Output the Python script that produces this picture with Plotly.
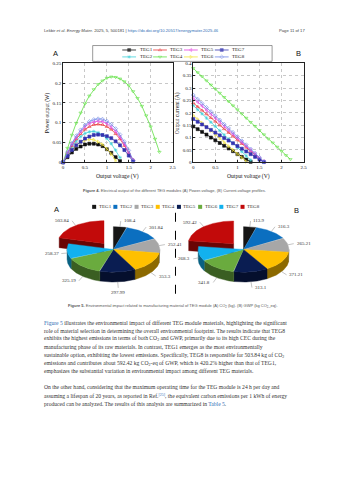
import numpy as np
import plotly.graph_objects as go

W, H = 353, 480

teg_names = ["TEG1", "TEG2", "TEG3", "TEG4", "TEG5", "TEG6", "TEG7", "TEG8"]

# ---------- Figure 4 data ----------
volt_TEG1 = [0.0, 0.1, 0.2, 0.3, 0.4, 0.5, 0.6, 0.7, 0.8, 0.9, 1.0, 1.1, 1.2, 1.3]
curr_TEG1 = [0.145, 0.134, 0.123, 0.112, 0.100, 0.089, 0.078, 0.067, 0.056, 0.045, 0.033, 0.022, 0.011, 0.002]
power_TEG1 = [0.0, 0.013, 0.025, 0.034, 0.040, 0.045, 0.047, 0.047, 0.045, 0.041, 0.033, 0.024, 0.013, 0.003]

volt_TEG2 = [0.0, 0.1, 0.2, 0.3, 0.4, 0.5, 0.6, 0.7, 0.8, 0.9, 1.0, 1.1, 1.2, 1.3]
curr_TEG2 = [0.230, 0.213, 0.196, 0.179, 0.162, 0.145, 0.128, 0.111, 0.094, 0.077, 0.060, 0.043, 0.026, 0.009]
power_TEG2 = [0.0, 0.021, 0.039, 0.054, 0.065, 0.073, 0.077, 0.078, 0.075, 0.069, 0.060, 0.047, 0.031, 0.012]

volt_TEG3 = [0.0, 0.1, 0.2, 0.3, 0.4, 0.5, 0.6, 0.7, 0.8, 0.9, 1.0, 1.1, 1.2, 1.3, 1.4, 1.5, 1.6]
curr_TEG3 = [0.240, 0.225, 0.210, 0.195, 0.180, 0.165, 0.150, 0.135, 0.120, 0.105, 0.090, 0.075, 0.060, 0.045, 0.030, 0.015, 0.004]
power_TEG3 = [0.0, 0.023, 0.042, 0.059, 0.072, 0.083, 0.090, 0.095, 0.096, 0.095, 0.090, 0.083, 0.072, 0.059, 0.042, 0.023, 0.006]

volt_TEG4 = [0.0, 0.1, 0.2, 0.3, 0.4, 0.5, 0.6, 0.7, 0.8, 0.9, 1.0, 1.1, 1.2, 1.3, 1.4, 1.5, 1.6, 1.7, 1.8, 1.9, 2.0, 2.1, 2.2]
curr_TEG4 = [0.380, 0.363, 0.347, 0.330, 0.313, 0.296, 0.280, 0.263, 0.246, 0.229, 0.213, 0.196, 0.179, 0.162, 0.146, 0.129, 0.112, 0.095, 0.079, 0.062, 0.045, 0.028, 0.012]
power_TEG4 = [0.0, 0.036, 0.069, 0.099, 0.125, 0.148, 0.168, 0.184, 0.197, 0.206, 0.213, 0.216, 0.215, 0.211, 0.204, 0.194, 0.179, 0.162, 0.142, 0.118, 0.090, 0.059, 0.026]

volt_TEG5 = [0.0, 0.1, 0.2, 0.3, 0.4, 0.5, 0.6, 0.7, 0.8, 0.9, 1.0, 1.1, 1.2, 1.3, 1.4, 1.5, 1.6]
curr_TEG5 = [0.260, 0.244, 0.228, 0.211, 0.195, 0.179, 0.163, 0.146, 0.130, 0.114, 0.098, 0.081, 0.065, 0.049, 0.033, 0.016, 0.003]
power_TEG5 = [0.0, 0.024, 0.046, 0.063, 0.078, 0.090, 0.098, 0.102, 0.104, 0.103, 0.098, 0.089, 0.078, 0.064, 0.046, 0.024, 0.005]

volt_TEG6 = [0.0, 0.1, 0.2, 0.3, 0.4, 0.5, 0.6, 0.7, 0.8, 0.9, 1.0, 1.1, 1.2]
curr_TEG6 = [0.190, 0.174, 0.159, 0.143, 0.128, 0.112, 0.097, 0.081, 0.065, 0.050, 0.034, 0.019, 0.003]
power_TEG6 = [0.0, 0.017, 0.032, 0.043, 0.051, 0.056, 0.058, 0.057, 0.052, 0.045, 0.034, 0.021, 0.004]

volt_TEG7 = [0.0, 0.1, 0.2, 0.3, 0.4, 0.5, 0.6, 0.7, 0.8, 0.9, 1.0, 1.1, 1.2, 1.3, 1.4, 1.5, 1.6]
curr_TEG7 = [0.175, 0.164, 0.153, 0.142, 0.131, 0.120, 0.109, 0.098, 0.088, 0.077, 0.066, 0.055, 0.044, 0.033, 0.022, 0.011, 0.001]
power_TEG7 = [0.0, 0.016, 0.031, 0.043, 0.052, 0.060, 0.065, 0.069, 0.070, 0.069, 0.066, 0.061, 0.053, 0.043, 0.031, 0.017, 0.002]

volt_TEG8 = [0.0, 0.1, 0.2, 0.3, 0.4, 0.5, 0.6, 0.7, 0.8, 0.9, 1.0, 1.1, 1.2, 1.3, 1.4, 1.5, 1.6]
curr_TEG8 = [0.272, 0.255, 0.238, 0.222, 0.205, 0.188, 0.171, 0.154, 0.138, 0.121, 0.104, 0.087, 0.071, 0.054, 0.037, 0.020, 0.003]
power_TEG8 = [0.0, 0.026, 0.048, 0.067, 0.082, 0.094, 0.103, 0.108, 0.110, 0.109, 0.104, 0.096, 0.085, 0.070, 0.052, 0.030, 0.005]

volts = [volt_TEG1, volt_TEG2, volt_TEG3, volt_TEG4, volt_TEG5, volt_TEG6, volt_TEG7, volt_TEG8]
currs = [curr_TEG1, curr_TEG2, curr_TEG3, curr_TEG4, curr_TEG5, curr_TEG6, curr_TEG7, curr_TEG8]
powers = [power_TEG1, power_TEG2, power_TEG3, power_TEG4, power_TEG5, power_TEG6, power_TEG7, power_TEG8]

power_ticks = [0, 0.05, 0.1, 0.15, 0.2, 0.25]
current_ticks = [0, 0.05, 0.1, 0.15, 0.2, 0.25, 0.3, 0.35, 0.4]
voltage_ticks = [0, 0.5, 1, 1.5, 2, 2.5]

# ---------- Figure 5 data ----------
co2_values = [108.4, 301.84, 252.41, 353.3, 297.99, 325.19, 258.37, 503.84]
gwp_values = [113.9, 316.3, 265.21, 371.21, 313.1, 341.8, 268.3, 592.42]
co2_labels = ["108.4", "301.84", "252.41", "353.3", "297.99", "325.19", "258.37", "503.84"]
gwp_labels = ["113.9", "316.3", "265.21", "371.21", "313.1", "341.8", "268.3", "592.42"]

# ---------- styles ----------
curve_colors = ["#111111", "#3fd0d8", "#e8383a", "#5fe043", "#e43fe0", "#f2e43a", "#3434b0", "#6e86e6"]
curve_symbols = ["square", "asterisk-open", "triangle-up-open", "triangle-down-open",
                 "triangle-left-open", "triangle-right-open", "square", "diamond-open"]
pie_colors = ["#161616", "#0b6fc0", "#a7a7a7", "#ffc000", "#0a1d52", "#6aab3e", "#12b1ee", "#c20a0a"]

SERIF = "Liberation Serif"
SANS = "Liberation Sans"
LINK = "#2f6db5"

fig = go.Figure()

# ---------- curves ----------
for k in range(8):
    for xa, ya, yv in (("x", "y", powers[k]), ("x2", "y2", currs[k])):
        fig.add_trace(go.Scatter(
            x=volts[k], y=yv, xaxis=xa, yaxis=ya, mode="lines+markers",
            line=dict(color=curve_colors[k], width=0.8),
            marker=dict(symbol=curve_symbols[k], size=3, color=curve_colors[k],
                        line=dict(color=curve_colors[k], width=0.6)),
            cliponaxis=False, showlegend=False, name=teg_names[k]))

# ---------- overlay axis in pixel units ----------
def px_trace(x, y, **kw):
    fig.add_trace(go.Scatter(x=x, y=y, xaxis="x3", yaxis="y3", showlegend=False,
                             hoverinfo="skip", **kw))

annotations = []
def text(x, y, s, size, font=SERIF, color="#222", xa="left", ya="middle", angle=0):
    annotations.append(dict(x=x, y=y, xref="x3", yref="y3", text=s, showarrow=False,
                            xanchor=xa, yanchor=ya, textangle=angle,
                            font=dict(family=font, size=size, color=color)))

# Figure 4 legend (manual, column-major order)
leg_order = [0, 2, 4, 6, 1, 3, 5, 7]
for pos, k in enumerate(leg_order):
    row, col = divmod(pos, 4)
    x0 = 123 + 31.3 * col
    yy = 48.5 + 7 * row
    px_trace([x0, x0 + 7, x0 + 14], [yy, yy, yy], mode="lines+markers",
             line=dict(color=curve_colors[k], width=0.8),
             marker=dict(symbol=curve_symbols[k], size=[0, 3, 0], color=curve_colors[k],
                         line=dict(color=curve_colors[k], width=0.6)))
    text(x0 + 15.5, yy, teg_names[k], 5)

# Figure 5 legend
for k in range(8):
    x0 = 93 + 21.5 * k
    px_trace([x0 + 1.5], [207], mode="markers",
             marker=dict(symbol="square", size=4, color=pie_colors[k]))
    text(x0 + 4, 207, teg_names[k], 5, color="#333")

# dashed separator
px_trace([177, 177], [213, 297], mode="lines", line=dict(color="black", width=1, dash="dash"))


def darker(hexc, f):
    h = hexc.lstrip("#")
    r, g, b = (int(h[i:i + 2], 16) for i in (0, 2, 4))
    return "rgb(%d,%d,%d)" % (r * f, g * f, b * f)


def pie3d(values, labels, cx, cy, rx, ry, depth, explode_index, explode):
    total = float(sum(values))
    cum = 0.0
    geo = []
    for k, v in enumerate(values):
        t0 = 90.0 - 360.0 * cum / total
        cum += v
        t1 = 90.0 - 360.0 * cum / total
        mid = np.radians((t0 + t1) / 2)
        e = explode if k == explode_index else 0.0
        pxc = cx + e * rx * np.cos(mid)
        pyc = cy - e * ry * np.sin(mid)
        ts = np.radians(np.linspace(t0, t1, 60))
        top = (np.r_[pxc, pxc + rx * np.cos(ts), pxc], np.r_[pyc, pyc - ry * np.sin(ts), pyc])
        walls = []
        lo, hi = max(t1, -180.0), min(t0, 0.0)
        if hi > lo:
            tw = np.radians(np.linspace(hi, lo, 40))
            wx = pxc + rx * np.cos(tw)
            wy = pyc - ry * np.sin(tw)
            walls.append((np.r_[wx, wx[::-1], wx[0]], np.r_[wy, wy[::-1] + depth, wy[0]]))
        if e > 0:
            for t, sgn in ((t0, -1), (t1, 1)):
                tr = np.radians(t)
                if sgn * np.cos(tr) > 1e-6:
                    ex_, ey_ = pxc + rx * np.cos(tr), pyc - ry * np.sin(tr)
                    walls.append(([pxc, ex_, ex_, pxc, pxc], [pyc, ey_, ey_ + depth, pyc + depth, pyc]))
        c, s = np.cos(mid), np.sin(mid)
        ex_ = pxc + rx * c
        ey_ = pyc - ry * s + depth * min(1.0, max(0.0, -s) * 2)
        lx, ly = ex_ + 6 * c, ey_ - 6 * s
        geo.append((k, e > 0, top, walls, (ex_, ey_, lx, ly, c, s)))

    for grp in ([g for g in geo if g[1]], [g for g in geo if not g[1]]):
        for k, _, top, walls, _ in grp:
            for wxs, wys in walls:
                px_trace(list(wxs), list(wys), mode="lines", fill="toself",
                         fillcolor=darker(pie_colors[k], 0.55),
                         line=dict(color=darker(pie_colors[k], 0.55), width=0.4))
        for k, _, top, walls, _ in grp:
            px_trace(list(top[0]), list(top[1]), mode="lines", fill="toself",
                     fillcolor=pie_colors[k], line=dict(color=pie_colors[k], width=0.4))
    for k, _, _, _, (ex_, ey_, lx, ly, c, s) in geo:
        px_trace([ex_, lx], [ey_, ly], mode="lines", line=dict(color="#8a8a8a", width=0.5))
        if c > 0.12:
            xa, ya = "left", "middle"
        elif c < -0.25:
            xa, ya = "right", "middle"
        else:
            xa, ya = "center", ("bottom" if s > 0 else "top")
        text(lx + (0.8 if xa == "left" else -0.8 if xa == "right" else 0), ly, labels[k], 5,
             color="#333", xa=xa, ya=ya)


pie3d(co2_values, co2_labels, 114, 250, 47, 23, 10, 7, 0.33)
pie3d(gwp_values, gwp_labels, 246, 250, 46, 23, 10, 7, 0.33)

# ---------- page text ----------
text(42, 29, "Lekbir <i>et al</i>. <i>Energy Mater.</i> 2025, 5, 500181 | "
     "<span style='color:%s'>https://dx.doi.org/10.20517/energymater.2025.46</span>" % LINK,
     4.2, font=SANS, color="#444")
text(310, 29, "Page 11 of 17", 4.2, font=SANS, color="#444", xa="right")

text(55, 52, "A", 7.5, font=SANS, color="#111", xa="center")
text(302, 52, "B", 7.5, font=SANS, color="#111", xa="center")
text(56, 210, "A", 7.5, font=SANS, color="#111", xa="center")
text(300, 211, "B", 7.5, font=SANS, color="#111", xa="center")

# axis titles
text(118.5, 176, "Output voltage (V)", 5.6, color="#111", xa="center")
text(251, 176, "Output voltage (V)", 5.6, color="#111", xa="center")
text(47, 112, "Power output (W)", 5.6, color="#111", xa="center", angle=-90)
text(179, 112, "Output current (A)", 5.6, color="#111", xa="center", angle=-90)

text(176, 190, "<b>Figure 4.</b> Electrical output of the different TEG modules (A) Power-voltage, "
     "(B) Current-voltage profiles.", 4, font=SANS, color="#555", xa="center")
text(174, 307, "<b>Figure 5.</b> Environmental impact related to manufacturing material of TEG module "
     "(A) CO<sub>2</sub> (kg). (B) GWP (kg CO<sub>2</sub>_eq).", 4, font=SANS, color="#555", xa="center")

para1 = [
    "<span style='color:%s'>Figure 5</span> illustrates the environmental impact of different TEG module materials, highlighting the significant" % LINK,
    "role of material selection in determining the overall environmental footprint. The results indicate that TEG8",
    "exhibits the highest emissions in terms of both CO<sub>2</sub> and GWP, primarily due to its high CEC during the",
    "manufacturing phase of its raw materials. In contrast, TEG1 emerges as the most environmentally",
    "sustainable option, exhibiting the lowest emissions. Specifically, TEG8 is responsible for 503.84 kg of CO<sub>2</sub>",
    "emissions and contributes about 592.42 kg CO<sub>2</sub>-eq of GWP, which is 420.2% higher than that of TEG1,",
    "emphasizes the substantial variation in environmental impact among different TEG materials.",
]
para2 = [
    "On the other hand, considering that the maximum operating time for the TEG module is 24 h per day and",
    "assuming a lifespan of 20 years, as reported in Ref.<sup><span style='color:%s'>[25]</span></sup>, the equivalent carbon emissions per 1 kWh of energy" % LINK,
    "produced can be analyzed. The results of this analysis are summarized in <span style='color:%s'>Table 5</span>." % LINK,
]
for i, line in enumerate(para1):
    text(42, 324 + 8.2 * i, line, 5.6, color="#333")
for i, line in enumerate(para2):
    text(42, 389.5 + 8.25 * i, line, 5.6, color="#333")

# ---------- axes ----------
tickfont = dict(family=SERIF, size=5, color="#111")
common = dict(showline=True, mirror=True, linecolor="#222", linewidth=0.7,
              showgrid=True, gridcolor="#c8c8c8", gridwidth=0.5, griddash="dot",
              zeroline=False, ticks="inside", ticklen=2, tickwidth=0.5, tickcolor="#222",
              tickfont=tickfont)

y_top = 1 - 62 / H
y_bot = 1 - 162 / H
fig.update_layout(
    width=W, height=H, autosize=False, margin=dict(l=0, r=0, t=0, b=0, pad=0),
    paper_bgcolor="white", plot_bgcolor="rgba(0,0,0,0)", showlegend=False,
    xaxis=dict(domain=[63 / W, 174 / W], range=[0, 2.5], tickvals=voltage_ticks,
               ticktext=[str(v) for v in voltage_ticks], anchor="y", **common),
    yaxis=dict(domain=[y_bot, y_top], range=[0, 0.25], tickvals=power_ticks,
               ticktext=[str(v) for v in power_ticks], anchor="x", **common),
    xaxis2=dict(domain=[195 / W, 307 / W], range=[0, 2.5], tickvals=voltage_ticks,
                ticktext=[str(v) for v in voltage_ticks], anchor="y2", **common),
    yaxis2=dict(domain=[y_bot, y_top], range=[0, 0.4], tickvals=current_ticks,
                ticktext=[str(v) for v in current_ticks], anchor="x2", **common),
    xaxis3=dict(domain=[0, 1], range=[0, W], visible=False, anchor="y3", fixedrange=True),
    yaxis3=dict(domain=[0, 1], range=[H, 0], visible=False, anchor="x3", fixedrange=True),
    annotations=annotations,
    shapes=[dict(type="rect", xref="x3", yref="y3", x0=93, x1=275, y0=44, y1=60,
                 line=dict(color="#555", width=0.6), fillcolor="rgba(255,255,255,0)")],
)

fig.write_html("out.html")
